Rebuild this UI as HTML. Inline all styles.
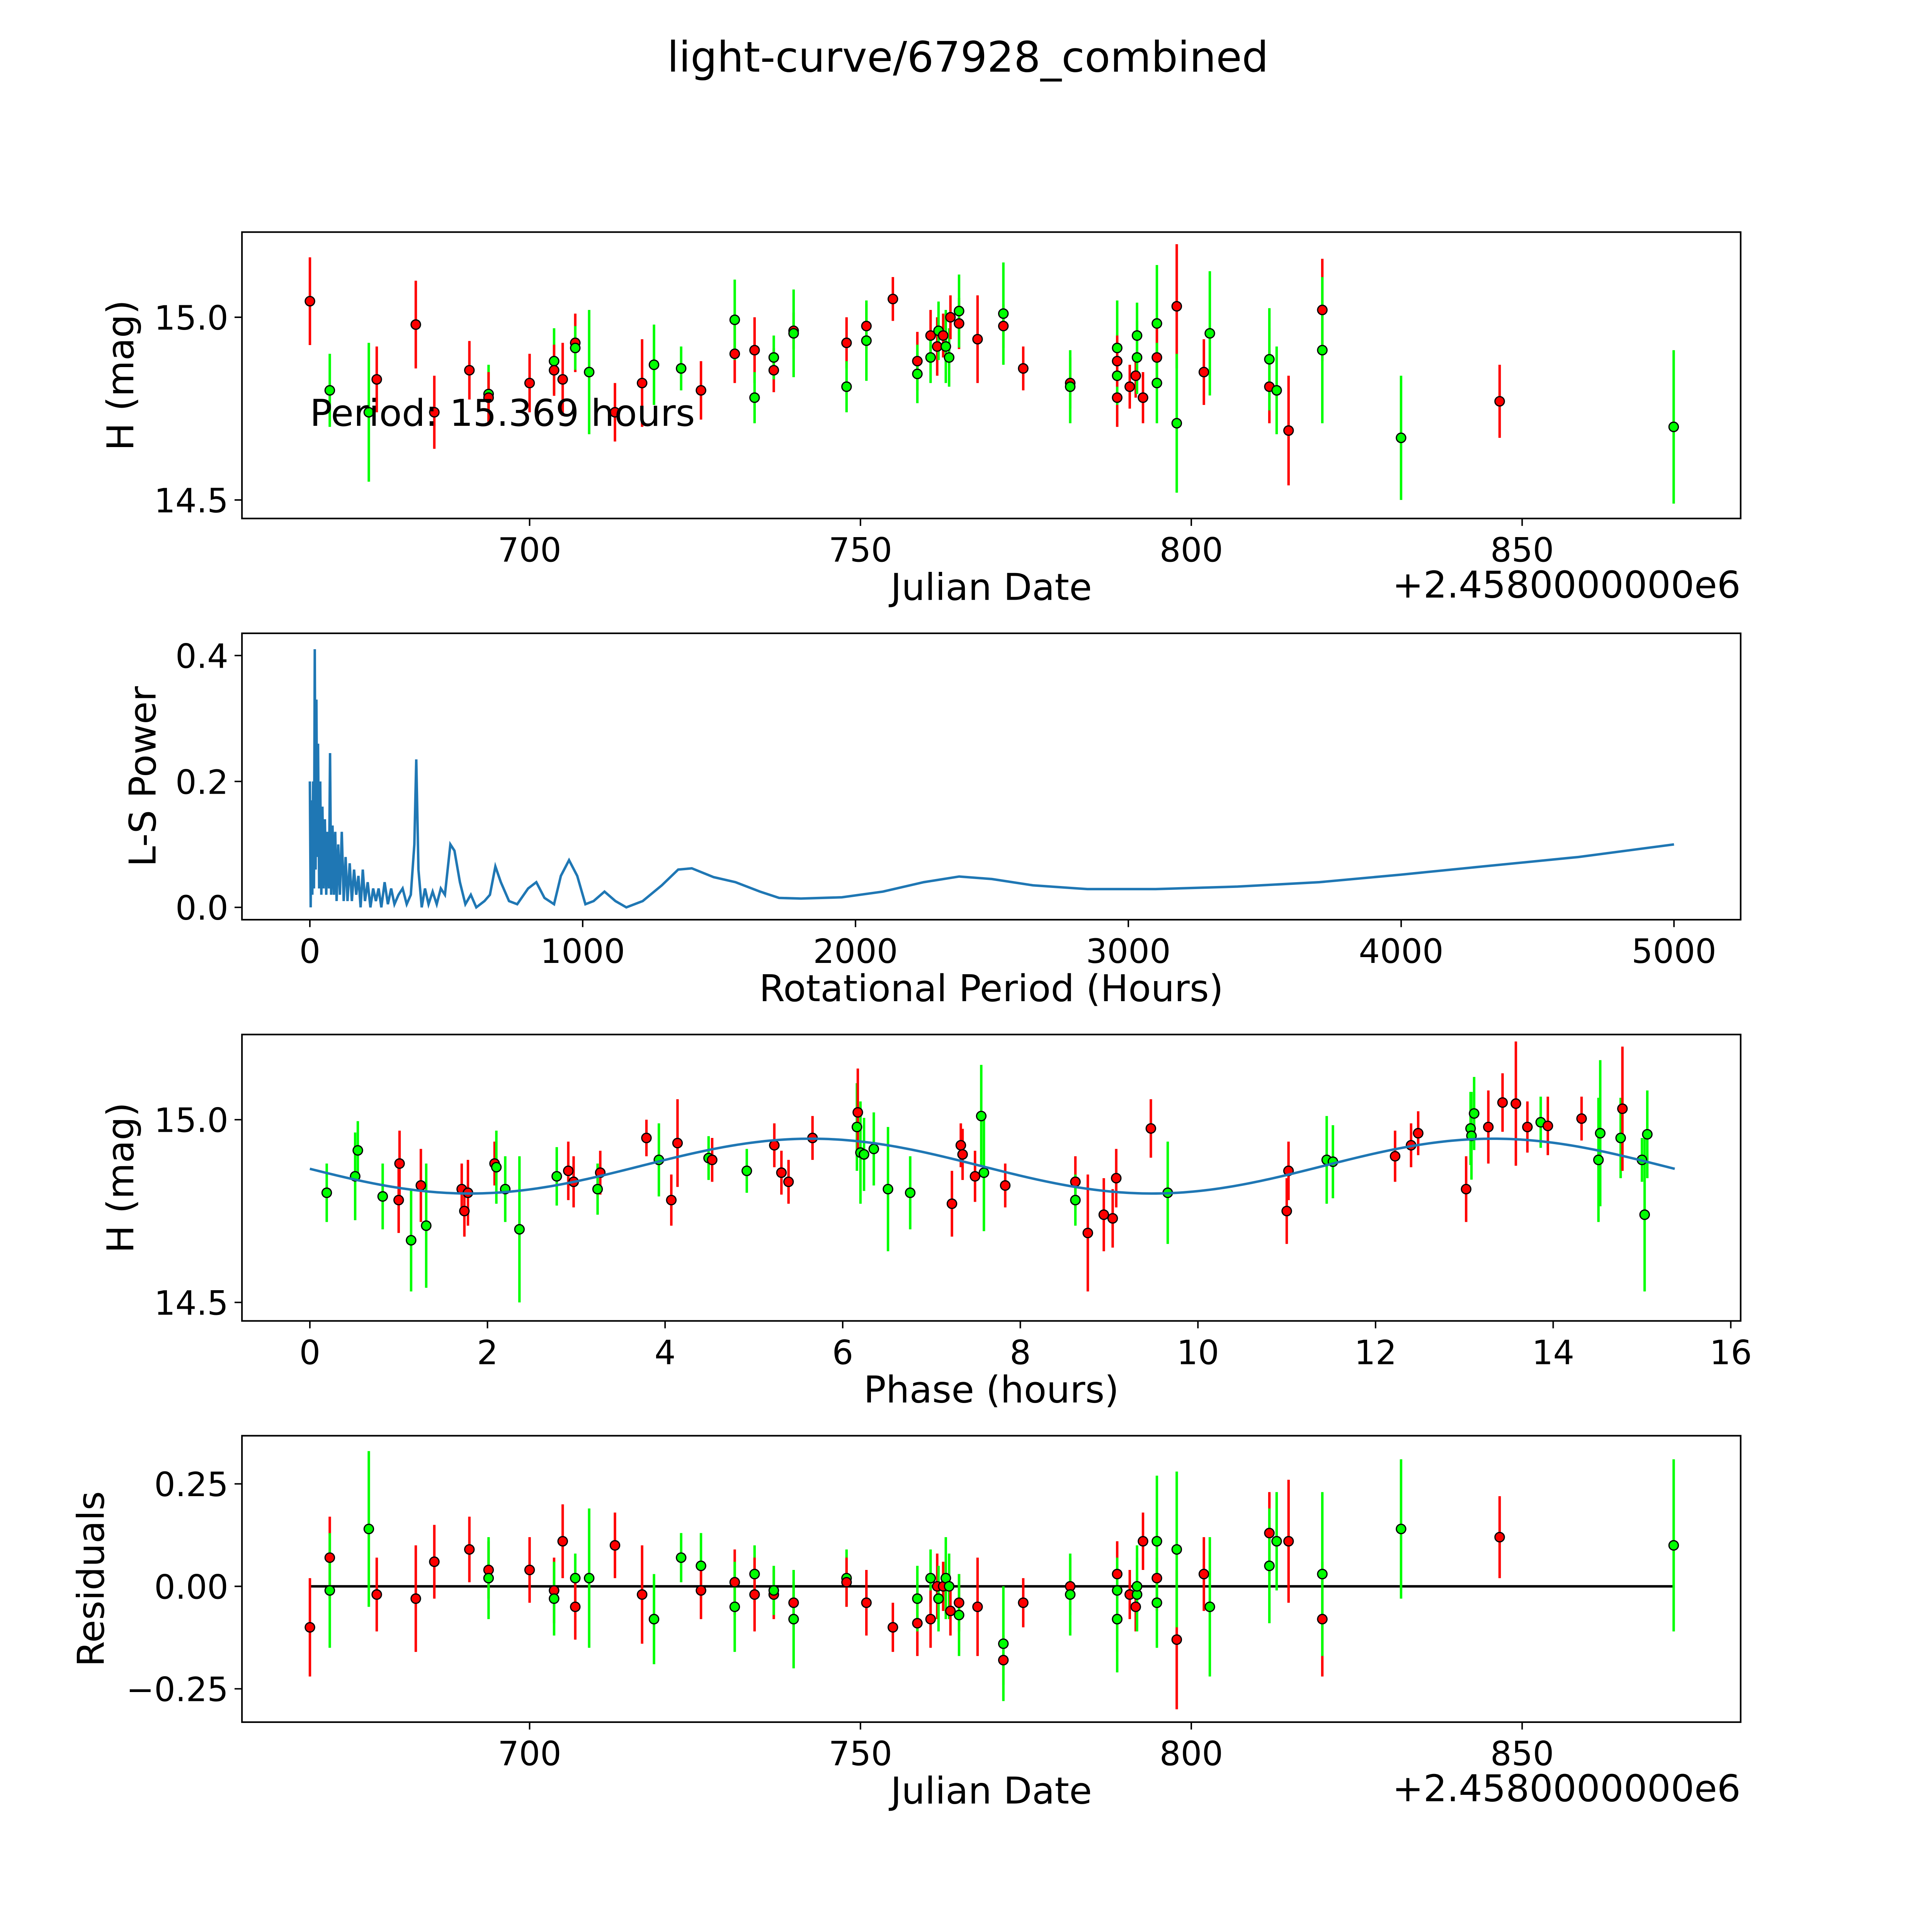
<!DOCTYPE html>
<html><head><meta charset="utf-8"><style>
html,body{margin:0;padding:0;background:#fff;overflow:hidden;width:100vw;height:100vh}
svg{display:block;width:100vw;height:100vh}
text{font-family:"DejaVu Sans","Liberation Sans",sans-serif;fill:#000}
</style></head><body>
<svg id="chart" viewBox="0 0 1565 1565" preserveAspectRatio="none" xmlns="http://www.w3.org/2000/svg">
<rect width="1565" height="1565" fill="#fff"/>
<text x="784" y="58" font-size="34" text-anchor="middle">light-curve/67928_combined</text>
</svg>
<script>
// ---------- Panel 1: light curve ----------
const lcDates=[666.8,669.8,675.7,676.9,682.8,685.6,690.9,693.8,693.8,700.0,703.7,703.7,705.0,706.9,706.9,709.0,712.9,717.0,718.8,722.9,725.9,731.0,731.0,734.0,734.0,736.9,736.9,739.9,739.9,747.9,747.9,750.9,750.9,754.9,758.6,758.6,760.6,760.6,761.6,761.8,762.5,762.9,763.4,763.6,764.9,764.9,767.7,771.6,771.6,774.6,781.7,781.7,788.8,788.8,788.8,788.8,790.7,791.6,791.8,791.8,792.7,794.8,794.8,794.8,797.8,797.8,801.9,802.8,811.8,811.8,812.9,814.7,819.8,819.8,831.7,846.6,872.9];
const lcMags=[15.044,14.80,14.74,14.83,14.98,14.74,14.855,14.79,14.78,14.82,14.88,14.855,14.83,14.93,14.916,14.85,14.74,14.82,14.87,14.86,14.80,14.90,14.993,14.91,14.78,14.855,14.89,14.963,14.956,14.93,14.81,14.976,14.936,15.05,14.88,14.845,14.95,14.89,14.92,14.963,14.95,14.92,14.89,15.0,14.983,15.017,14.94,14.976,15.01,14.86,14.82,14.81,14.78,14.916,14.84,14.88,14.81,14.84,14.95,14.89,14.78,14.983,14.89,14.82,15.03,14.71,14.85,14.956,14.81,14.885,14.80,14.69,15.02,14.91,14.67,14.77,14.70];
const lcErrs=[0.12,0.10,0.19,0.09,0.12,0.10,0.08,0.08,0.07,0.08,0.09,0.07,0.10,0.08,0.06,0.17,0.08,0.12,0.11,0.06,0.08,0.08,0.11,0.09,0.07,0.06,0.06,0.05,0.12,0.07,0.07,0.06,0.11,0.06,0.08,0.08,0.07,0.07,0.08,0.08,0.06,0.10,0.08,0.06,0.07,0.10,0.12,0.06,0.14,0.06,0.07,0.10,0.08,0.13,0.08,0.07,0.06,0.06,0.09,0.10,0.07,0.16,0.08,0.11,0.17,0.19,0.09,0.17,0.10,0.14,0.12,0.15,0.14,0.20,0.17,0.10,0.21];
const lcBands="rggrrrrgrr"+"grrrggrrgg"+"rrgrgrgrgr"+"grgrrgrgrg"+"rggrrgrrgr"+"rgrggrrrgg"+"rgrgrgrgrg"+"grrggrg";

// ---------- Panel 2: periodogram ----------
const lsPeriods=[0,3,6,9,12,15,18,21,24,27,30,34,38,42,46,50,55,60,65,70,74,78,83,88,93,98,104,110,117,124,131,138,146,154,162,170,178,186,194,202,212,222,232,242,252,262,274,286,298,310,325,340,355,370,383,390,398,410,422,435,450,465,480,495,515,530,550,570,590,610,640,660,680,700,730,760,800,830,860,895,920,950,980,1010,1040,1080,1120,1160,1220,1290,1350,1400,1480,1560,1650,1720,1800,1950,2100,2250,2380,2500,2650,2850,3100,3400,3700,4000,4300,4650,5000];
const lsPowers=[0.2,0.0,0.17,0.02,0.2,0.03,0.41,0.06,0.33,0.08,0.26,0.03,0.2,0.02,0.16,0.03,0.14,0.02,0.12,0.03,0.245,0.02,0.13,0.02,0.12,0.01,0.1,0.02,0.12,0.01,0.08,0.01,0.07,0.01,0.06,0.02,0.05,0.0,0.06,0.01,0.04,0.0,0.03,0.01,0.03,0.0,0.04,0.005,0.03,0.005,0.02,0.03,0.005,0.02,0.1,0.235,0.06,0.0,0.03,0.005,0.025,0.005,0.03,0.02,0.1,0.09,0.04,0.005,0.02,0.0,0.01,0.02,0.065,0.04,0.01,0.005,0.03,0.04,0.015,0.005,0.05,0.075,0.05,0.005,0.01,0.025,0.01,0.0,0.01,0.035,0.06,0.062,0.048,0.04,0.025,0.015,0.014,0.016,0.025,0.04,0.049,0.045,0.035,0.029,0.029,0.033,0.04,0.052,0.065,0.08,0.1];

// ---------- Panel 3: phased ----------
const phPhases=[0.19,0.51,0.54,0.82,1.00,1.01,1.14,1.25,1.31,1.71,1.74,1.78,2.08,2.10,2.20,2.36,2.78,2.91,2.97,3.24,3.27,3.79,3.93,4.07,4.14,4.49,4.53,4.92,5.23,5.31,5.39,5.66,6.16,6.17,6.20,6.24,6.35,6.51,6.76,7.23,7.33,7.35,7.49,7.56,7.59,7.83,8.62,8.62,8.76,8.94,9.04,9.08,9.47,9.66,11.00,11.02,11.45,11.52,12.22,12.40,12.48,13.02,13.07,13.08,13.11,13.27,13.43,13.58,13.71,13.86,13.94,14.32,14.51,14.53,14.76,14.78,15.00,15.03,15.06];
const phMags=[14.80,14.845,14.916,14.79,14.78,14.88,14.67,14.82,14.71,14.81,14.75,14.80,14.88,14.87,14.81,14.70,14.845,14.86,14.83,14.81,14.855,14.95,14.89,14.78,14.936,14.895,14.89,14.86,14.93,14.855,14.83,14.95,14.98,15.02,14.91,14.905,14.92,14.81,14.80,14.77,14.93,14.905,14.845,15.01,14.855,14.82,14.83,14.78,14.69,14.74,14.73,14.84,14.976,14.80,14.75,14.86,14.89,14.885,14.90,14.93,14.963,14.81,14.976,14.956,15.017,14.98,15.047,15.044,14.98,14.993,14.983,15.003,14.89,14.963,14.95,15.03,14.89,14.74,14.96];
const phErrs=[0.08,0.12,0.08,0.09,0.09,0.09,0.14,0.10,0.17,0.07,0.07,0.09,0.06,0.10,0.09,0.20,0.08,0.08,0.07,0.07,0.06,0.05,0.10,0.07,0.12,0.06,0.06,0.06,0.06,0.06,0.06,0.06,0.12,0.12,0.14,0.10,0.10,0.17,0.10,0.09,0.06,0.07,0.07,0.14,0.16,0.06,0.07,0.07,0.16,0.10,0.08,0.08,0.08,0.14,0.09,0.08,0.12,0.10,0.07,0.06,0.06,0.09,0.10,0.12,0.10,0.10,0.08,0.17,0.07,0.07,0.08,0.06,0.17,0.20,0.11,0.17,0.06,0.21,0.12];
const phBands="ggggrrgrgr"+"rrrggggrrg"+"rrgrrgrgrr"+"rrgrgggggr"+"rrrggrrgrr"+"rrrgrrggrr"+"rrgggrrrrg"+"rrgggrggg";
const modelPeriod=15.369, modelMean=14.873, modelAmp=0.075, modelTrough=1.8;

// ---------- Panel 4: residuals ----------
const resDates=[666.8,669.8,669.8,675.7,676.9,682.8,685.6,690.9,693.8,693.8,700.0,703.7,703.7,705.0,706.9,706.9,709.0,712.9,717.0,718.8,722.9,725.9,725.9,731.0,731.0,734.0,734.0,736.9,736.9,739.9,739.9,747.9,747.9,750.9,754.9,758.6,758.6,760.6,760.6,761.6,761.8,762.5,762.9,763.4,763.6,764.9,764.9,767.7,771.6,771.6,774.6,781.7,781.7,788.8,788.8,788.8,788.8,790.7,791.6,791.8,791.8,792.7,794.8,794.8,794.8,797.8,797.8,801.9,802.8,811.8,811.8,812.9,814.7,819.8,819.8,831.7,846.6,872.9];
const resVals=[-0.10,0.07,-0.01,0.14,-0.02,-0.03,0.06,0.09,0.04,0.02,0.04,-0.01,-0.03,0.11,0.02,-0.05,0.02,0.10,-0.02,-0.08,0.07,0.05,-0.01,0.01,-0.05,0.03,-0.02,-0.02,-0.01,-0.04,-0.08,0.02,0.01,-0.04,-0.10,-0.09,-0.03,0.02,-0.08,0.0,-0.03,0.0,0.02,0.0,-0.06,-0.04,-0.07,-0.05,-0.18,-0.14,-0.04,0.0,-0.02,0.03,-0.08,-0.08,-0.01,-0.02,-0.05,-0.02,0.0,0.11,0.02,0.11,-0.04,-0.13,0.09,0.03,-0.05,0.13,0.05,0.11,0.11,-0.08,0.03,0.14,0.12,0.10];
const resErrs=[0.12,0.10,0.14,0.19,0.09,0.13,0.09,0.08,0.07,0.10,0.08,0.08,0.09,0.09,0.06,0.08,0.17,0.08,0.12,0.11,0.06,0.08,0.07,0.08,0.11,0.07,0.09,0.06,0.06,0.05,0.12,0.07,0.06,0.08,0.06,0.08,0.08,0.07,0.07,0.08,0.08,0.06,0.10,0.08,0.06,0.07,0.10,0.12,0.06,0.14,0.06,0.07,0.10,0.08,0.08,0.13,0.08,0.06,0.06,0.09,0.10,0.07,0.08,0.16,0.11,0.17,0.19,0.09,0.17,0.10,0.14,0.12,0.15,0.14,0.20,0.17,0.10,0.21];
const resBands="rrggrrrrrg"+"rrgrgrgrrg"+"ggrrggrrgr"+"ggrrrrggrr"+"grggrrgrrg"+"rrgrrggrrg"+"grrggrgrgr"+"ggrrggrg";

const NS="http://www.w3.org/2000/svg";
const svg=document.getElementById('chart');
function mk(tag,attrs,parent){const e=document.createElementNS(NS,tag);for(const k in attrs)e.setAttribute(k,attrs[k]);(parent||svg).appendChild(e);return e;}
function lin(d0,d1,r0,r1){return v=>r0+(v-d0)*(r1-r0)/(d1-d0);}
const COL={r:'#ff0000',g:'#00ff00'};
const TF=27, LF=30;

function frame(name){
  const g=mk('g',{});
  
  
  return g;
}
function axesBox(g,x0,y0,x1,y1){mk('rect',{x:x0,y:y0,width:x1-x0,height:y1-y0,fill:'none',stroke:'#000','stroke-width':1.3},g);}
function xTicks(g,vals,labels,sx,yb){
  vals.forEach((v,i)=>{const x=sx(v);
    mk('line',{x1:x,x2:x,y1:yb,y2:yb+6,stroke:'#000','stroke-width':1.2},g);
    const t=mk('text',{x:x,y:yb+35,'font-size':TF,'text-anchor':'middle'},g);t.textContent=labels[i];
    
    });
}
function yTicks(g,vals,labels,sy,xl){
  vals.forEach((v,i)=>{const y=sy(v);
    mk('line',{x1:xl-6,x2:xl,y1:y,y2:y,stroke:'#000','stroke-width':1.2},g);
    const t=mk('text',{x:xl-11,y:y+10,'font-size':TF,'text-anchor':'end'},g);t.textContent=labels[i];
    
    });
}
function label(g,txt,x,y,rot,name){
  const t=mk('text',{x:x,y:y,'font-size':LF,'text-anchor':'middle',transform:rot?`rotate(-90 ${x} ${y})`:''},g);
  t.textContent=txt;
  
  
  return t;
}
function errPoints(g,xs,ys,es,bands,sx,sy,name){
  xs.forEach((v,i)=>{const x=sx(v),c=COL[bands[i]];
    mk('line',{x1:x,x2:x,y1:sy(ys[i]-es[i]),y2:sy(ys[i]+es[i]),stroke:c,'stroke-width':2},g);});
  xs.forEach((v,i)=>{const c=mk('circle',{cx:sx(v),cy:sy(ys[i]),r:3.8,fill:COL[bands[i]],stroke:'#000','stroke-width':1},g);
    
    });
}

// Panel 1
{const g=frame('light-curve-panel');
 const sx=lin(700,850,429,1233), sy=lin(15,14.5,257,405);
 errPoints(g,lcDates,lcMags,lcErrs,lcBands,sx,sy,'light-curve-point');
 axesBox(g,196,188,1410,420);
 xTicks(g,[700,750,800,850],['700','750','800','850'],sx,420);
 yTicks(g,[15,14.5],['15.0','14.5'],sy,196);
 label(g,'Julian Date',803,486,false,'x-axis-title');
 label(g,'H (mag)',108,304,true,'y-axis-title');
 const o=mk('text',{x:1410,y:484,'font-size':LF,'text-anchor':'end'},g);o.textContent='+2.4580000000e6';
 
 
 const p=mk('text',{x:251,y:345,'font-size':LF},g);p.textContent='Period: 15.369 hours';
 
 }

// Panel 2
{const g=frame('periodogram-panel');
 const sx=lin(0,1000,251,472), sy=lin(0,0.4,735,531);
 const pl=mk('polyline',{points:lsPeriods.map((p,i)=>sx(p)+','+sy(lsPowers[i])).join(' '),fill:'none',stroke:'#1f77b4','stroke-width':2},g);
 
 
 axesBox(g,196,513,1410,745);
 xTicks(g,[0,1000,2000,3000,4000,5000],['0','1000','2000','3000','4000','5000'],sx,745);
 yTicks(g,[0,0.2,0.4],['0.0','0.2','0.4'],sy,196);
 label(g,'Rotational Period (Hours)',803,811,false,'x-axis-title');
 label(g,'L-S Power',126,629,true,'y-axis-title');}

// Panel 3
{const g=frame('phase-panel');
 const sx=lin(0,16,251,1402), sy=lin(15,14.5,907,1055);
 errPoints(g,phPhases,phMags,phErrs,phBands,sx,sy,'phase-point');
 const pts=[];for(let i=0;i<=300;i++){const p=modelPeriod*i/300;
   const m=modelMean-modelAmp*Math.cos(2*Math.PI*(p-modelTrough)/(modelPeriod/2));pts.push(sx(p)+','+sy(m));}
 const fl=mk('polyline',{points:pts.join(' '),fill:'none',stroke:'#1f77b4','stroke-width':2},g);
 
 
 axesBox(g,196,838,1410,1070);
 xTicks(g,[0,2,4,6,8,10,12,14,16],['0','2','4','6','8','10','12','14','16'],sx,1070);
 yTicks(g,[15,14.5],['15.0','14.5'],sy,196);
 label(g,'Phase (hours)',803,1136,false,'x-axis-title');
 label(g,'H (mag)',108,954,true,'y-axis-title');}

// Panel 4
{const g=frame('residuals-panel');
 const sx=lin(700,850,429,1233), sy=lin(0,0.25,1285,1202);
 const zl=mk('line',{x1:sx(666.8),x2:sx(872.9),y1:sy(0),y2:sy(0),stroke:'#000','stroke-width':2},g);
 
 
 errPoints(g,resDates,resVals,resErrs,resBands,sx,sy,'residual-point');
 axesBox(g,196,1163,1410,1395);
 xTicks(g,[700,750,800,850],['700','750','800','850'],sx,1395);
 yTicks(g,[0.25,0,-0.25],['0.25','0.00','\u22120.25'],sy,196);
 label(g,'Julian Date',803,1461,false,'x-axis-title');
 label(g,'Residuals',84,1279,true,'y-axis-title');
 const o=mk('text',{x:1410,y:1459,'font-size':LF,'text-anchor':'end'},g);o.textContent='+2.4580000000e6';
 
 }
</script>
</body></html>
